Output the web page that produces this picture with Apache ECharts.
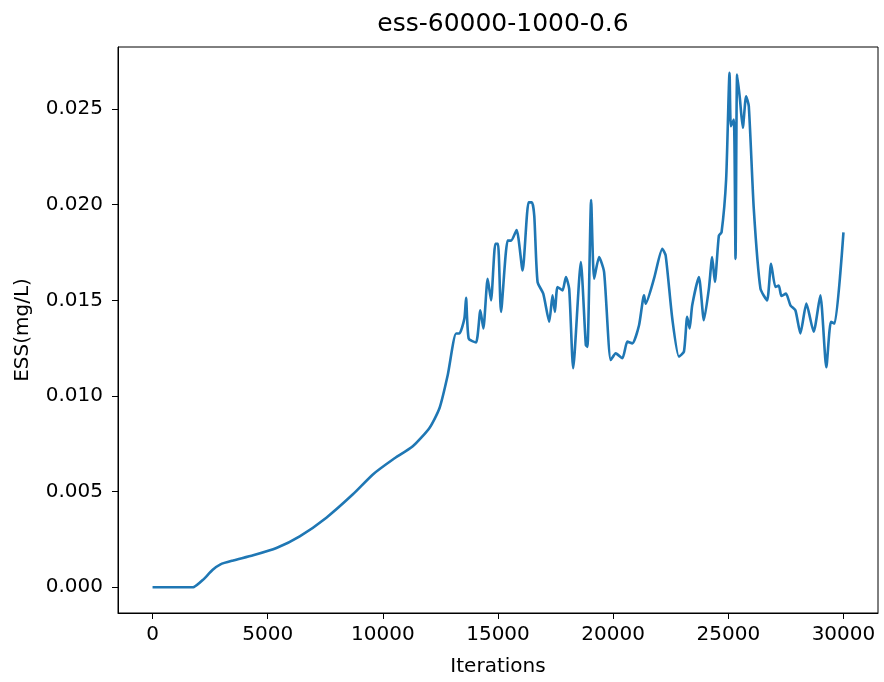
<!DOCTYPE html>
<html>
<head>
<meta charset="utf-8">
<script src="https://cdn.jsdelivr.net/npm/echarts@6/dist/echarts.min.js"></script>
<style>
  html, body { margin: 0; padding: 0; background: #fff; }
  #chart { width: 884px; height: 682px; }
</style>
</head>
<body>
<div id="chart"></div>
<script>
// values
var iters = [0, 500, 1000, 1500, 1800, 2200, 2600, 2950, 3500, 4368, 5380, 6390, 7548, 8700, 9568,
  10434, 11300, 12024, 12458, 12818, 13180, 13324, 13540, 13613, 13727, 14047, 14234, 14364, 14551, 14698,
  14885, 15000, 15131, 15418, 15565, 15808, 16068, 16328, 16475, 16575, 16718, 16965, 17225, 17367, 17471,
  17584, 17800, 17948, 18091, 18264, 18597, 18814, 18884, 19044, 19174, 19390, 19607, 19897, 20114, 20400,
  20617, 20834, 21124, 21340, 21413, 21773, 22134, 22281, 22567, 22857, 23074, 23215, 23320, 23433, 23723,
  23940, 24157, 24300, 24417, 24590, 24707, 24906, 25054, 25111, 25240, 25314, 25384, 25500, 25630, 25773,
  25890, 26107, 26396, 26684, 26857, 27047, 27190, 27307, 27506, 27697, 27913, 28130, 28390, 28706, 28996,
  29256, 29456, 29616, 30000];
var ess = [0, 0, 0, 0, 0.00002, 0.0004, 0.0009, 0.0012, 0.0014, 0.00167, 0.00205, 0.00266, 0.00364, 0.00486, 0.0059,
  0.00668, 0.00737, 0.00833, 0.00936, 0.0111, 0.01327, 0.01327, 0.01405, 0.01513, 0.0130, 0.0128, 0.01448, 0.01353, 0.01613, 0.0150,
  0.01795, 0.01795, 0.0144, 0.01812, 0.01812, 0.01868, 0.01656, 0.02012, 0.02012, 0.01942, 0.01596, 0.01535, 0.01388, 0.01526, 0.0144,
  0.0157, 0.01552, 0.01622, 0.0156, 0.01145, 0.0170, 0.01266, 0.01257, 0.02025, 0.01613, 0.01726, 0.01648, 0.01188, 0.01223, 0.01197,
  0.01284, 0.01275, 0.0137, 0.01526, 0.01483, 0.01613, 0.01769, 0.01734, 0.01405, 0.01206, 0.01232, 0.01414, 0.01353, 0.01474, 0.01622,
  0.01396, 0.01561, 0.01726, 0.01596, 0.01838, 0.01856, 0.02133, 0.0269, 0.0241, 0.02445, 0.01717, 0.0268, 0.02558, 0.02402, 0.02567,
  0.02515, 0.01977, 0.01561, 0.015, 0.01691, 0.0157, 0.01578, 0.01523, 0.01535, 0.01474, 0.01448, 0.01327, 0.01483, 0.01336, 0.01526,
  0.0115, 0.01388, 0.01379, 0.01855];
var xTicks = [0, 5000, 10000, 15000, 20000, 25000, 30000];
var yTicks = [0, 0.005, 0.01, 0.015, 0.02, 0.025];

var font = 'DejaVu Sans';
var chart = echarts.init(document.getElementById('chart'));

chart.setOption({
    animation: false,
    backgroundColor: '#fff',
    title: {
        text: 'ess-60000-1000-0.6',
        left: 498,
        textAlign: 'center',
        top: 7,
        textStyle: { fontFamily: font, fontSize: 25, fontWeight: 'normal', color: '#000' }
    },
    grid: {
        left: 118, right: 6, top: 47, bottom: 69,
        show: true, borderColor: '#000', borderWidth: 1
    },
    xAxis: {
        type: 'value',
        min: -1500, max: 31500,
        name: 'Iterations',
        nameLocation: 'middle',
        nameGap: 44,
        nameTextStyle: { fontFamily: font, fontSize: 20, color: '#000' },
        axisLine: { onZero: false, lineStyle: { color: '#000', width: 1 } },
        axisTick: { customValues: xTicks, length: 6, lineStyle: { color: '#000' } },
        axisLabel: {
            customValues: xTicks, margin: 12, fontFamily: font, fontSize: 20, color: '#000',
            formatter: function (v) { return String(v); }
        },
        splitLine: { show: false }
    },
    yAxis: {
        type: 'value',
        min: -0.001345, max: 0.028245,
        name: 'ESS(mg/L)',
        nameLocation: 'middle',
        nameGap: 85,
        nameTextStyle: { fontFamily: font, fontSize: 20, color: '#000' },
        axisLine: { show: true, onZero: false, lineStyle: { color: '#000', width: 1 } },
        axisTick: { show: true, customValues: yTicks, length: 6, lineStyle: { color: '#000' } },
        axisLabel: {
            customValues: yTicks, margin: 15, fontFamily: font, fontSize: 20, color: '#000',
            formatter: function (v) { return v.toFixed(3); }
        },
        splitLine: { show: false }
    },
    series: [{
        type: 'line',
        data: iters.map(function (x, i) { return [x, ess[i]]; }),
        showSymbol: false,
        smooth: 0.2,
        lineStyle: { color: '#1f77b4', width: 2.6 },
        itemStyle: { color: '#1f77b4' }
    }]
});
</script>
</body>
</html>
